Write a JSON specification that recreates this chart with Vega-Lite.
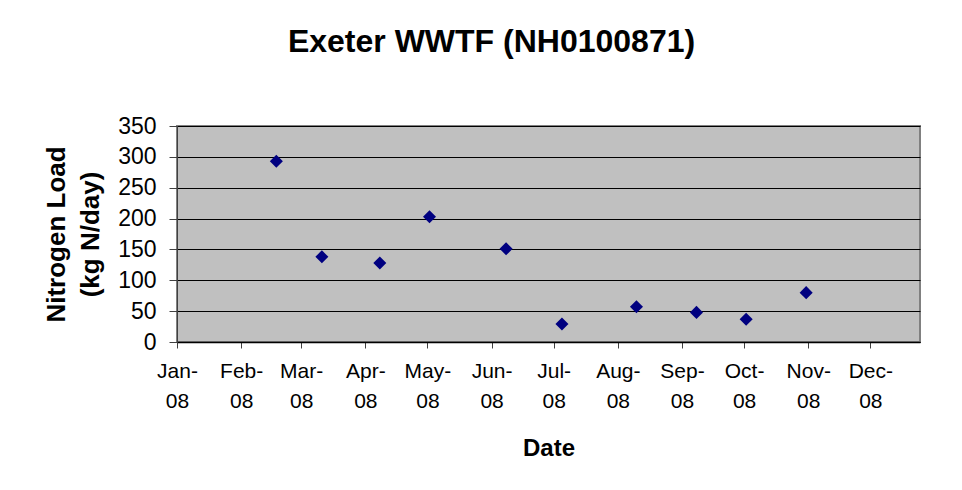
{
  "$schema": "https://vega.github.io/schema/vega-lite/v6.json",
  "autosize": {"type": "none"},
  "width": 743,
  "height": 216,
  "padding": {"left": 177, "top": 126, "right": 42, "bottom": 148},
  "background": "white",
  "title": {
    "text": "Exeter WWTF (NH0100871)",
    "font": "Liberation Sans",
    "fontSize": 32,
    "fontWeight": "bold",
    "color": "black",
    "anchor": "middle",
    "dx": -57,
    "offset": 56
  },
  "config": {
    "font": "Liberation Sans",
    "view": {"fill": "#C0C0C0", "stroke": "#808080", "strokeWidth": 2}
  },
  "data": {
    "values": [
      {"date": "2008-02-18", "load": 293},
      {"date": "2008-03-11", "load": 138},
      {"date": "2008-04-08", "load": 128},
      {"date": "2008-05-02", "load": 203},
      {"date": "2008-06-08", "load": 151},
      {"date": "2008-07-05", "load": 29},
      {"date": "2008-08-10", "load": 57},
      {"date": "2008-09-08", "load": 48},
      {"date": "2008-10-02", "load": 37},
      {"date": "2008-10-31", "load": 80}
    ]
  },
  "mark": {"type": "point", "shape": "diamond", "filled": true, "color": "#000080", "size": 170, "opacity": 1},
  "encoding": {
    "x": {
      "field": "date",
      "type": "temporal",
      "scale": {"type": "utc", "domain": [{"year": 2008, "month": 1, "date": 1, "utc": true}, {"year": 2008, "month": 12, "date": 25, "utc": true}], "nice": false},
      "axis": {
        "title": "Date",
        "titleFont": "Liberation Sans",
        "titleFontSize": 24,
        "titleFontWeight": "bold",
        "titleColor": "black",
        "titlePadding": 25,
        "tickCount": {"interval": "month", "step": 1},
        "labelExpr": "[utcFormat(datum.value, '%b') + '-', utcFormat(datum.value, '%y')]",
        "labelFont": "Liberation Sans",
        "labelFontSize": 21,
        "labelColor": "black",
        "labelLineHeight": 30,
        "labelPadding": 12,
        "labelOverlap": false,
        "labelFlush": false,
        "labelBound": false,
        "grid": false,
        "domainColor": "black",
        "domainWidth": 1.5,
        "tickColor": "#404040",
        "tickSize": 6,
        "tickWidth": 1
      }
    },
    "y": {
      "field": "load",
      "type": "quantitative",
      "scale": {"domain": [0, 350], "nice": false},
      "axis": {
        "title": ["Nitrogen Load", "(kg N/day)"],
        "titleFont": "Liberation Sans",
        "titleFontSize": 26,
        "titleFontWeight": "bold",
        "titleColor": "black",
        "titleLineHeight": 34,
        "titlePadding": 14,
        "values": [0, 50, 100, 150, 200, 250, 300, 350],
        "labelFont": "Liberation Sans",
        "labelFontSize": 23,
        "labelColor": "black",
        "labelPadding": 13,
        "labelOverlap": false,
        "labelFlush": false,
        "grid": true,
        "gridColor": "black",
        "gridWidth": 1,
        "domainColor": "#404040",
        "domainWidth": 1,
        "tickColor": "#404040",
        "tickSize": 8,
        "tickWidth": 1
      }
    }
  }
}
